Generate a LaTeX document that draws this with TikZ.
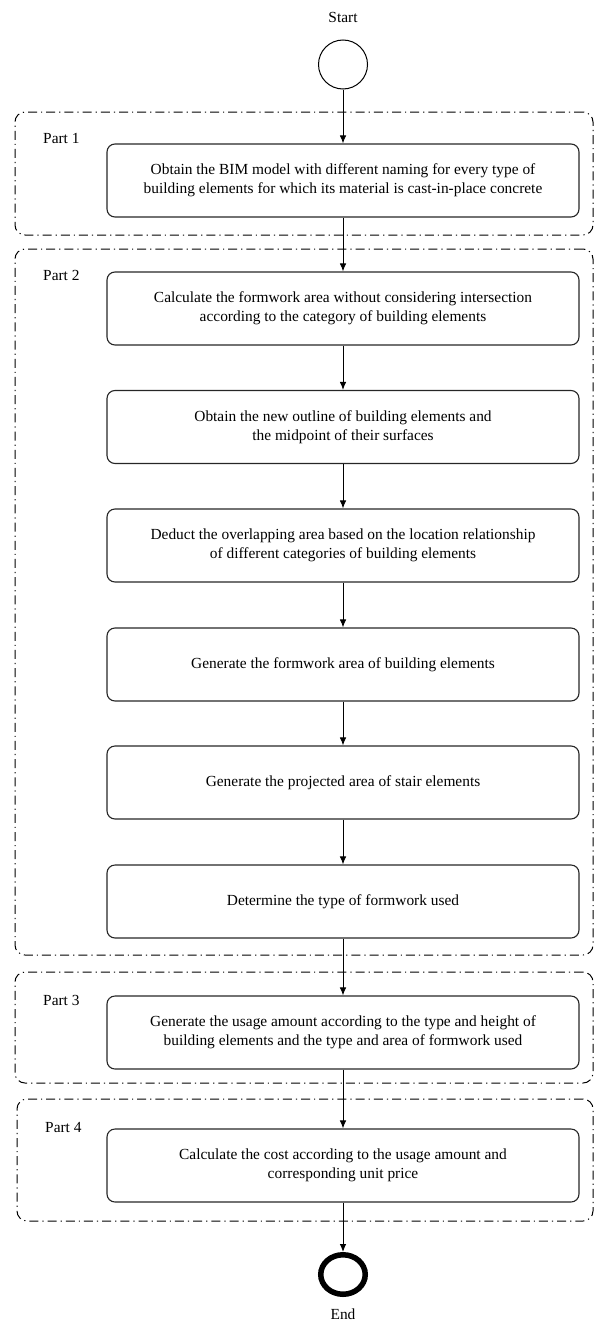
\documentclass[tikz,border=0pt]{standalone}
\usepackage{fontspec}
\setmainfont{Liberation Serif}
\usetikzlibrary{arrows.meta,shapes.geometric}
\begin{document}
\begin{tikzpicture}[x=1pt,y=-1pt,
  txt/.style={font=\fontsize{15.4}{19.3}\selectfont},
  stepbox/.style={draw=black!85, line width=1.1pt, rounded corners=8pt, minimum width=472pt, minimum height=73pt, inner sep=0pt, align=center, txt},
  partframe/.style={draw=black, line width=1pt, rounded corners=10pt, dash pattern=on 9pt off 4pt on 1.2pt off 4pt, inner sep=0pt},
  partlabel/.style={anchor=west, inner sep=0pt, txt},
  flow/.style={line width=0.9pt, -{Latex[length=8pt,width=6.5pt]}}
]
\useasboundingbox (0,0) rectangle (595,1322);

% part frames
\node[partframe, minimum width=578pt, minimum height=123pt] (p1) at (304,173.5) {};
\node[partframe, minimum width=578pt, minimum height=706pt] (p2) at (304,602) {};
\node[partframe, minimum width=578pt, minimum height=111pt] (p3) at (304,1027.5) {};
\node[partframe, minimum width=576pt, minimum height=122pt] (p4) at (305,1160) {};

\node[partlabel] (l1) at (43,138) {Part 1};
\node[partlabel] (l2) at (43,275) {Part 2};
\node[partlabel] (l3) at (43,1000) {Part 3};
\node[partlabel] (l4) at (45,1127) {Part 4};

% start / end
\node[txt, inner sep=0pt] (starttxt) at (343,17) {Start};
\node[draw=black, line width=1pt, circle, minimum size=49pt, inner sep=0pt] (start) at (343,64.5) {};
\node[draw=black, line width=5.5pt, ellipse, minimum width=44.5pt, minimum height=39.5pt, inner sep=0pt] (end) at (343,1274.5) {};
\node[txt, inner sep=0pt] (endtxt) at (343,1314) {End};

% steps
\node[stepbox] (b1) at (343,180.5) {Obtain the BIM model with different naming for every type of\\building elements for which its material is cast-in-place concrete};
\node[stepbox] (b2) at (343,308.5) {Calculate the formwork area without considering intersection\\according to the category of building elements};
\node[stepbox] (b3) at (343,427) {Obtain the new outline of building elements and\\the midpoint of their surfaces};
\node[stepbox] (b4) at (343,545.5) {Deduct the overlapping area based on the location relationship\\of different categories of building elements};
\node[stepbox] (b5) at (343,664.5) {Generate the formwork area of building elements};
\node[stepbox] (b6) at (343,782.5) {Generate the projected area of stair elements};
\node[stepbox] (b7) at (343,901.5) {Determine the type of formwork used};
\node[stepbox] (b8) at (343,1032.5) {Generate the usage amount according to the type and height of\\building elements and the type and area of formwork used};
\node[stepbox] (b9) at (343,1165.5) {Calculate the cost according to the usage amount and\\corresponding unit price};

% connectors
\draw[flow] (start) -- (b1);
\draw[flow] (b1) -- (b2);
\draw[flow] (b2) -- (b3);
\draw[flow] (b3) -- (b4);
\draw[flow] (b4) -- (b5);
\draw[flow] (b5) -- (b6);
\draw[flow] (b6) -- (b7);
\draw[flow] (b7) -- (b8);
\draw[flow] (b8) -- (b9);
\draw[flow] (b9) -- (end);
\end{tikzpicture}
\end{document}
